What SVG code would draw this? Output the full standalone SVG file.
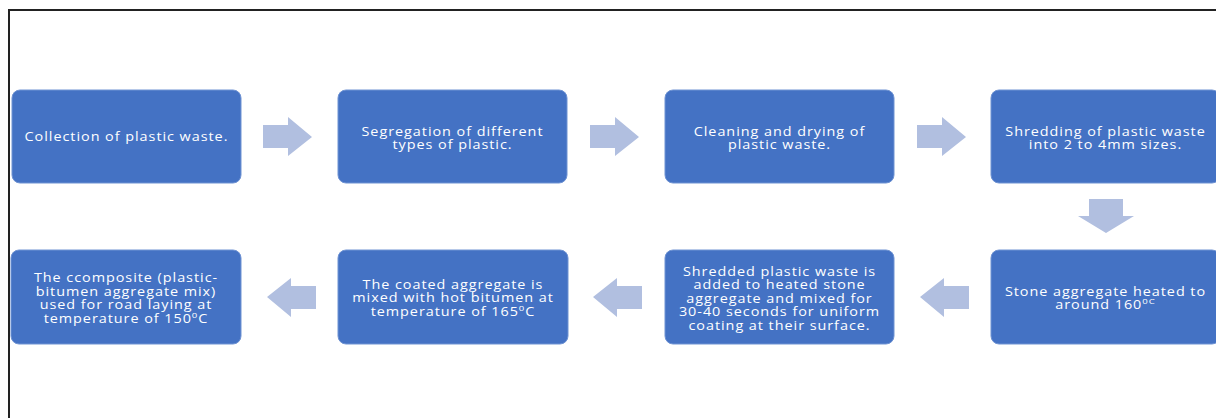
<svg xmlns="http://www.w3.org/2000/svg" width="1216" height="418" viewBox="0 0 1216 418">
<style>
.box{fill:#4472C4;stroke:#6f93d3;stroke-width:1}
.arr{fill:#B1BFE0}
.t{font-family:"Open Sans","Noto Sans","DejaVu Sans",sans-serif;font-size:12px;font-weight:500;letter-spacing:0.8px;fill:#fff;text-anchor:middle}
.sup{font-size:8px}
</style>
<rect x="0" y="0" width="1216" height="418" fill="#fff"/>
<path d="M9 418 V10 H1216" fill="none" stroke="#222" stroke-width="2"/>
<g id="connectors">
<polygon class="arr" points="263,125 288,125 288,117 312,137 288,156 288,148 263,148"/>
<polygon class="arr" points="590,125 615,125 615,117 639,137 615,156 615,148 590,148"/>
<polygon class="arr" points="917,125 942,125 942,117 966,137 942,156 942,148 917,148"/>
<polygon class="arr" points="1089,199 1123,199 1123,216 1134,216 1106,233 1078,216 1089,216"/>
<polygon class="arr" points="969,286 944,286 944,278 920,297 944,317 944,309 969,309"/>
<polygon class="arr" points="642,286 617,286 617,278 593,297 617,317 617,309 642,309"/>
<polygon class="arr" points="316,286 291,286 291,278 267,297 291,317 291,309 316,309"/>
</g>
<g id="n1"><rect class="box" x="12" y="90" width="229" height="93" rx="8"/>
<g transform="translate(126.5,0) scale(1.2,1)"><text class="t" x="0" y="141.5">Collection of plastic waste.</text></g></g>
<g id="n2"><rect class="box" x="338" y="90" width="229" height="93" rx="8"/>
<g transform="translate(452.5,0) scale(1.2,1)"><text class="t" x="0" y="136">Segregation of different</text>
<text class="t" x="0" y="149.5">types of plastic.</text></g></g>
<g id="n3"><rect class="box" x="665" y="90" width="229" height="93" rx="8"/>
<g transform="translate(779.5,0) scale(1.2,1)"><text class="t" x="0" y="136">Cleaning and drying of</text>
<text class="t" x="0" y="149.5">plastic waste.</text></g></g>
<g id="n4"><rect class="box" x="991" y="90" width="229" height="93" rx="8"/>
<g transform="translate(1105.5,0) scale(1.2,1)"><text class="t" x="0" y="136">Shredding of plastic waste</text>
<text class="t" x="0" y="149.5">into 2 to 4mm sizes.</text></g></g>
<g id="n5"><rect class="box" x="991" y="250" width="229" height="94" rx="8"/>
<g transform="translate(1105.5,0) scale(1.2,1)"><text class="t" x="0" y="296">Stone aggregate heated to</text>
<text class="t" x="0" y="309.5">around 160<tspan class="sup" dy="-5">0C</tspan></text></g></g>
<g id="n6"><rect class="box" x="665" y="250" width="229" height="94" rx="8"/>
<g transform="translate(779.5,0) scale(1.2,1)"><text class="t" x="0" y="276">Shredded plastic waste is</text>
<text class="t" x="0" y="289.5">added to heated stone</text>
<text class="t" x="0" y="303">aggregate and mixed for</text>
<text class="t" x="0" y="316.5">30-40 seconds for uniform</text>
<text class="t" x="0" y="330">coating at their surface.</text></g></g>
<g id="n7"><rect class="box" x="338" y="250" width="230" height="94" rx="8"/>
<g transform="translate(453,0) scale(1.2,1)"><text class="t" x="0" y="289">The coated aggregate is</text>
<text class="t" x="0" y="302.5">mixed with hot bitumen at</text>
<text class="t" x="0" y="316">temperature of 165<tspan class="sup" dy="-5">0</tspan><tspan dy="5">C</tspan></text></g></g>
<g id="n8"><rect class="box" x="11" y="250" width="230" height="94" rx="8"/>
<g transform="translate(126,0) scale(1.2,1)"><text class="t" x="0" y="282.5">The ccomposite (plastic-</text>
<text class="t" x="0" y="296">bitumen aggregate mix)</text>
<text class="t" x="0" y="309.5">used for road laying at</text>
<text class="t" x="0" y="323">temperature of 150<tspan class="sup" dy="-5">0</tspan><tspan dy="5">C</tspan></text></g></g>
</svg>
